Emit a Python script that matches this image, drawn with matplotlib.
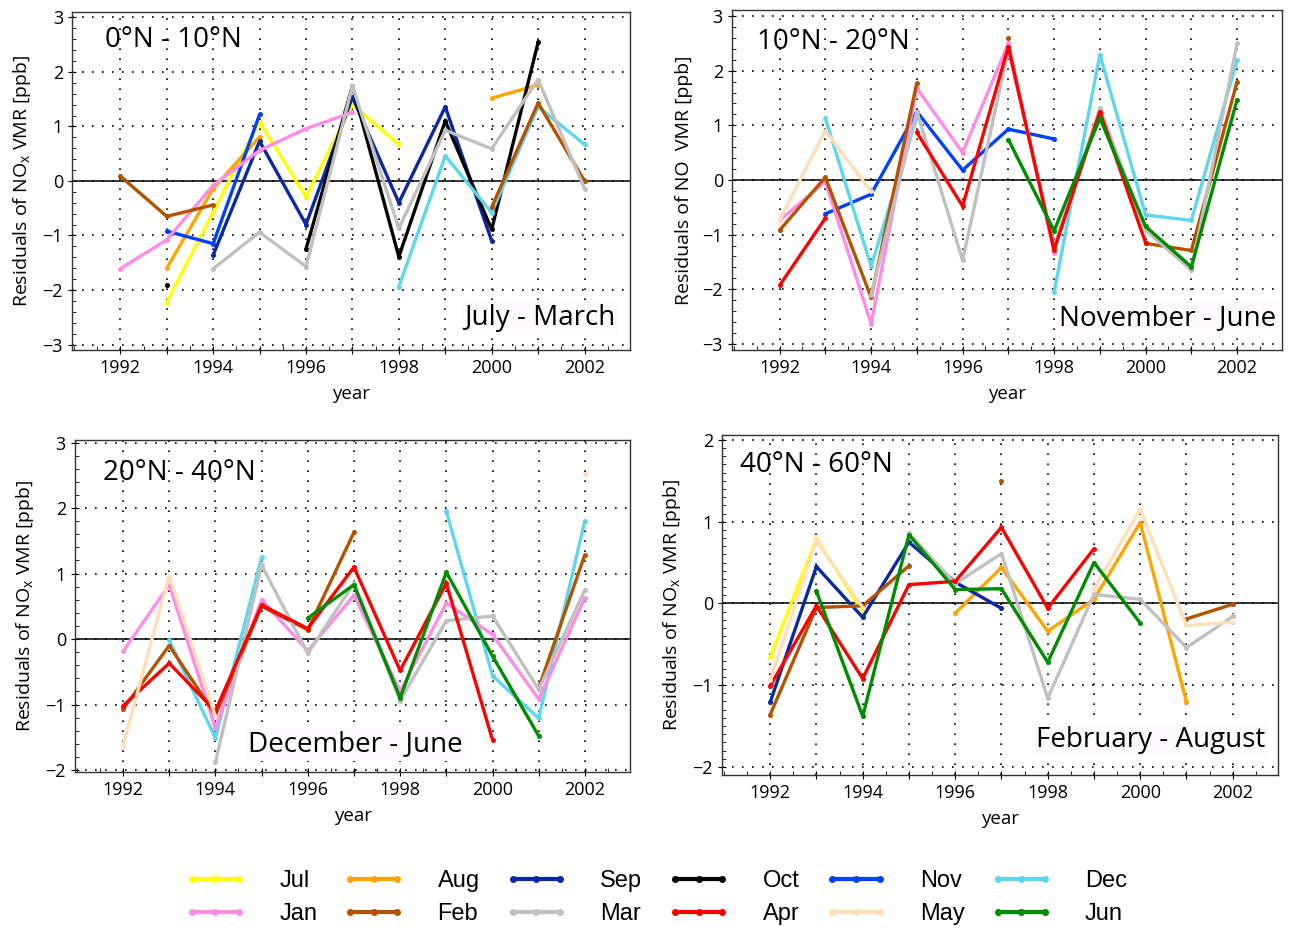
import numpy as np
import matplotlib
matplotlib.use("Agg")
import matplotlib.pyplot as plt
from matplotlib.lines import Line2D
from matplotlib.ticker import MultipleLocator

plt.rcParams['font.family'] = ['Open Sans', 'DejaVu Sans']
plt.rcParams['mathtext.default'] = 'regular'

nan = np.nan
years = np.arange(1992, 2003)

months = ["Jul", "Aug", "Sep", "Oct", "Nov", "Dec", "Jan", "Feb", "Mar", "Apr", "May", "Jun"]
colors = {"Jul": "#ffff00", "Aug": "#ffa500", "Sep": "#0a28a0", "Oct": "#000000",
          "Nov": "#0040ff", "Dec": "#5fd6ee", "Jan": "#ff8ce6", "Feb": "#b35300",
          "Mar": "#c0c0c0", "Apr": "#ff0000", "May": "#ffdfb8", "Jun": "#008c00"}

# residuals per latitude band, 1992..2002
band_0_10 = {
    "Jul": [nan, -2.23, -0.57, 1.08, -0.29, 1.40, 0.67, nan, nan, nan, nan],
    "Aug": [nan, -1.60, -0.14, 0.81, nan, nan, nan, nan, 1.52, 1.76, nan],
    "Sep": [nan, nan, -1.36, 0.73, -0.80, 1.54, -0.40, 1.36, -1.10, nan, nan],
    "Oct": [nan, -1.91, nan, nan, -1.25, 1.74, -1.39, 1.10, -0.89, 2.54, nan],
    "Nov": [nan, -0.92, -1.15, 1.22, nan, nan, nan, nan, nan, nan, nan],
    "Dec": [nan, nan, nan, nan, nan, nan, -1.94, 0.46, -0.58, 1.36, 0.67],
    "Jan": [-1.61, -1.08, -0.08, 0.56, 0.96, 1.26, nan, nan, nan, nan, nan],
    "Feb": [0.09, -0.65, -0.44, nan, nan, nan, nan, nan, -0.48, 1.43, 0.00],
    "Mar": [nan, nan, -1.61, -0.94, -1.57, 1.74, -0.87, 0.93, 0.59, 1.86, -0.14],
}
band_10_20 = {
    "Nov": [nan, -0.62, -0.26, 1.25, 0.18, 0.93, 0.75, nan, nan, nan, nan],
    "Dec": [nan, 1.13, -1.58, 1.15, nan, nan, -2.05, 2.29, -0.64, -0.74, 2.19],
    "Jan": [-0.74, -0.03, -2.63, 1.68, 0.50, 2.50, -1.33, nan, nan, nan, nan],
    "Feb": [-0.92, 0.05, -2.15, 1.78, nan, 2.60, nan, nan, -1.16, -1.29, 1.80],
    "Mar": [nan, nan, -2.10, 1.25, -1.47, 2.38, -1.22, 1.31, -0.92, -1.65, 2.50],
    "Apr": [-1.93, -0.70, nan, 0.87, -0.48, 2.44, -1.28, 1.25, -1.15, nan, nan],
    "May": [-0.73, 0.90, -0.21, nan, nan, nan, nan, nan, nan, nan, nan],
    "Jun": [nan, nan, nan, nan, nan, 0.74, -0.93, 1.13, -0.85, -1.59, 1.47],
}
band_20_40 = {
    "Dec": [nan, -0.02, -1.51, 1.25, nan, nan, nan, 1.95, -0.56, -1.21, 1.81],
    "Jan": [-0.19, 0.83, -1.36, 0.60, -0.18, 0.67, -0.80, 0.55, 0.07, -0.92, 0.63],
    "Feb": [-1.07, -0.10, -1.16, 0.50, 0.14, 1.63, nan, nan, nan, -0.75, 1.29],
    "Mar": [nan, nan, -1.88, 1.13, -0.22, 0.85, -0.94, 0.28, 0.35, -0.77, 0.75],
    "Apr": [-1.02, -0.37, -1.10, 0.52, 0.16, 1.10, -0.48, 0.85, -1.54, nan, nan],
    "May": [-1.63, 0.97, -1.18, nan, nan, nan, nan, nan, nan, nan, 2.52],
    "Jun": [nan, nan, nan, nan, 0.32, 0.83, -0.90, 1.02, -0.26, -1.48, nan],
}
band_40_60 = {
    "Jul": [-0.66, 0.79, -0.10, nan, nan, nan, nan, nan, nan, nan, -0.15],
    "Aug": [nan, nan, nan, nan, -0.12, 0.44, -0.34, 0.05, 0.99, -1.21, nan],
    "Sep": [-1.21, 0.45, -0.17, 0.75, 0.26, -0.06, nan, nan, nan, nan, nan],
    "Feb": [-1.36, -0.05, -0.03, 0.46, nan, 1.50, nan, nan, nan, -0.19, -0.01],
    "Mar": [nan, nan, nan, 0.86, 0.24, 0.61, -1.16, 0.11, 0.05, -0.54, -0.16],
    "Apr": [-1.01, -0.03, -0.92, 0.23, 0.27, 0.93, -0.06, 0.67, nan, nan, nan],
    "May": [-0.94, 0.77, -0.05, nan, nan, nan, nan, 0.18, 1.15, -0.27, -0.23],
    "Jun": [nan, 0.15, -1.38, 0.84, 0.17, 0.18, -0.72, 0.50, -0.24, nan, nan],
}

fig = plt.figure(figsize=(12.91, 9.33), dpi=100)

panels = [
    (band_0_10, [0.0558, 0.6249, 0.4322, 0.3623], (-3.1, 3.1), 0.2,
     "0°N - 10°N", (0.059, 0.917), "July - March", (0.973, 0.095), "right",
     "Residuals of NO$_x$ VMR [ppb]"),
    (band_10_20, [0.567, 0.6249, 0.426, 0.3644], (-3.11, 3.11), 0.2,
     "10°N - 20°N", (0.045, 0.906), "November - June", (0.989, 0.094), "right",
     "Residuals of NO  VMR [ppb]"),
    (band_20_40, [0.0581, 0.1726, 0.43, 0.3558], (-2.03, 3.04), 0.2,
     "20°N - 40°N", (0.05, 0.90), "December - June", (0.505, 0.084), "center",
     "Residuals of NO$_x$ VMR [ppb]"),
    (band_40_60, [0.5593, 0.1693, 0.4307, 0.3644], (-2.1, 2.06), 0.1,
     "40°N - 60°N", (0.032, 0.912), "February - August", (0.977, 0.103), "right",
     "Residuals of NO$_x$ VMR [ppb]"),
]

for data, rect, ylim, yminor, region, rpos, season, spos, sha, ylab in panels:
    ax = fig.add_axes(rect)
    ax.set_xlim(1990.96, 2002.98)
    ax.set_ylim(*ylim)
    ax.xaxis.set_major_locator(MultipleLocator(1))
    ax.xaxis.set_minor_locator(MultipleLocator(0.5))
    ax.yaxis.set_major_locator(MultipleLocator(1))
    ax.yaxis.set_minor_locator(MultipleLocator(yminor))
    ax.set_xticks(years)
    ax.set_xticklabels([str(y) if y % 2 == 0 else "" for y in years])
    ax.tick_params(which="major", direction="inout", length=6, labelsize=13, width=0.8)
    ax.tick_params(which="minor", direction="in", length=3, width=0.6)
    ax.grid(True, which="major", color="black", linestyle=(0, (1, 5)), linewidth=1.2)
    ax.axhline(0, color="black", linewidth=1.1, zorder=1)
    for sp in ax.spines.values():
        sp.set_linewidth(1.0)
        sp.set_color("#333333")

    for m in months:
        if m in data:
            ax.plot(years, data[m], color=colors[m], linewidth=2.4,
                    marker="o", markersize=2.6, solid_capstyle="butt", zorder=2)

    ax.text(rpos[0], rpos[1], region, transform=ax.transAxes, fontsize=20,
            ha="left", va="center")
    ax.text(spos[0], spos[1], season, transform=ax.transAxes, fontsize=20,
            ha=sha, va="center",
            bbox=dict(facecolor="#fdfbfd", edgecolor="none", pad=2))
    ax.set_xlabel("year", fontsize=13.5, labelpad=6)
    ax.set_ylabel(ylab, fontsize=14, labelpad=7)

# legend
handles = []
labels = []
order = ["Jul", "Jan", "Aug", "Feb", "Sep", "Mar", "Oct", "Apr", "Nov", "May", "Dec", "Jun"]
for m in order:
    handles.append(Line2D([0], [0], color=colors[m], linewidth=3, marker="o", markersize=4))
    labels.append(m)
fig.legend(handles, labels, ncol=6, loc="center", bbox_to_anchor=(0.508, 0.038),
           frameon=False, numpoints=3, handlelength=2.6, handletextpad=1.4,
           columnspacing=1.1, labelspacing=0.45,
           prop={"family": "Liberation Sans", "size": 17})

fig.savefig("out.png", dpi=100)
